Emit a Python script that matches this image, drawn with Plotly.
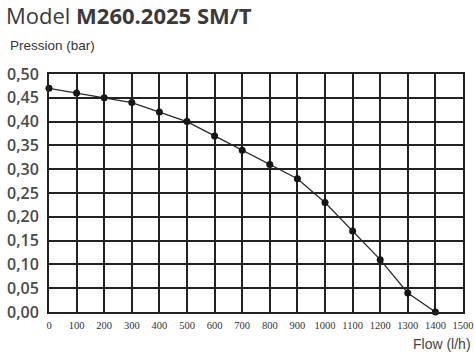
import plotly.graph_objects as go

# Pump curve: flow (l/h) vs pressure (bar)
flow = [0, 100, 200, 300, 400, 500, 600, 700, 800, 900, 1000, 1100, 1200, 1300, 1400]
pression = [0.47, 0.46, 0.45, 0.44, 0.42, 0.40, 0.37, 0.34, 0.31, 0.28, 0.23, 0.17, 0.11, 0.04, 0.00]

x_ticks = list(range(0, 1501, 100))
y_ticks = [0.00, 0.05, 0.10, 0.15, 0.20, 0.25, 0.30, 0.35, 0.40, 0.45, 0.50]
y_tick_labels = ["0,00", "0,05", "0,10", "0,15", "0,20", "0,25", "0,30", "0,35", "0,40", "0,45", "0,50"]

fig = go.Figure()
fig.add_trace(go.Scatter(
    x=flow, y=pression, mode="lines+markers",
    line=dict(color="#2a2a2a", width=1.3),
    marker=dict(symbol="circle", size=7, color="#151515"),
    cliponaxis=False, showlegend=False,
))

fig.update_xaxes(
    range=[0, 1500], tickvals=x_ticks, ticktext=[str(v) for v in x_ticks],
    showgrid=True, gridcolor="#222", gridwidth=2,
    showline=True, linecolor="#222", linewidth=2, mirror=True,
    zeroline=False, ticks="", ticklabelstandoff=2, automargin=False,
    tickfont=dict(family="Liberation Sans Narrow", size=10.5, color="#333"),
)
fig.update_yaxes(
    range=[0, 0.5], tickvals=y_ticks, ticktext=y_tick_labels,
    showgrid=True, gridcolor="#222", gridwidth=2,
    showline=True, linecolor="#222", linewidth=2, mirror=True,
    zeroline=False, ticks="", ticklabelstandoff=5, automargin=False,
    tickfont=dict(family="Open Sans", size=16, color="#4a4a4a", weight=600),
)

fig.update_layout(
    width=474, height=354,
    margin=dict(l=49, r=11, t=74, b=42),
    paper_bgcolor="white", plot_bgcolor="white",
    annotations=[
        dict(text="Model <b>M260.2025 SM/T</b>", xref="paper", yref="paper",
             x=-0.109, y=1.248, xanchor="left", yanchor="middle", showarrow=False,
             font=dict(family="Open Sans", size=22, color="#3a3a3a")),
        dict(text="Pression (bar)", xref="paper", yref="paper",
             x=-0.099, y=1.118, xanchor="left", yanchor="middle", showarrow=False,
             font=dict(family="Liberation Sans", size=13.5, color="#333")),
        dict(text="Flow (l/h)", xref="paper", yref="paper",
             x=1.025, y=-0.135, xanchor="right", yanchor="middle", showarrow=False,
             font=dict(family="Liberation Sans", size=14, color="#444")),
    ],
)

fig.write_html("out.html")
